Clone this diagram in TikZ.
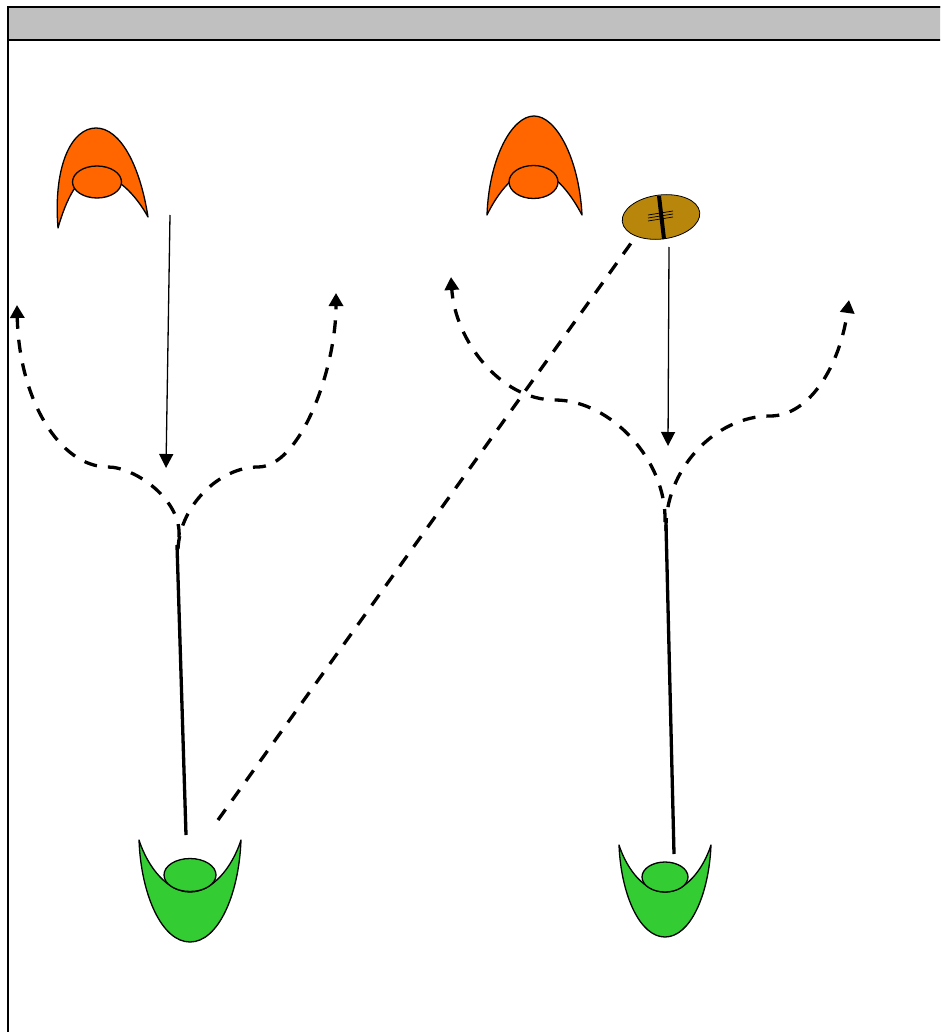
\documentclass[tikz,border=0pt]{standalone}
\usetikzlibrary{arrows.meta,shapes.geometric}
\definecolor{hdr}{HTML}{C0C0C0}
\definecolor{orng}{HTML}{FF6600}
\definecolor{grn}{HTML}{33CC33}
\definecolor{ball}{HTML}{B8860B}
\tikzset{
  x=1pt,y=-1pt,
  body/.style={draw=black,line width=1.3pt,line join=round},
  orangebody/.style={body,fill=orng},
  greenbody/.style={body,fill=grn},
  run/.style={line width=3.3pt,-{Triangle[width=14pt,length=13pt]},dash pattern=on 13pt off 11pt},
  pass/.style={line width=3.3pt,dash pattern=on 13pt off 11pt},
  block/.style={line width=3.3pt},
  move/.style={line width=1.3pt,-{Triangle[width=14pt,length=14pt]}},
}
\begin{document}
\begin{tikzpicture}
\useasboundingbox (0,0) rectangle (940,1032);
\clip (0,0) rectangle (940,1032);
\fill[white] (0,0) rectangle (940,1032);
% frame and header
\draw[line width=1.6pt] (8,1040) -- (8,7) -- (950,7);
\draw[line width=1.6pt,fill=hdr] (8,7) rectangle (950,40);
% left defender
\draw[orangebody] (58,228) .. controls (53,165) and (72,128) .. (96,128)
  .. controls (120,128) and (140,165) .. (148,217)
  .. controls (136,195) and (116,174) .. (96,174)
  .. controls (78,174) and (66,200) .. (58,228) -- cycle;
\node[ellipse,inner sep=0,minimum width=49pt,minimum height=32pt,orangebody,draw] (hL) at (97,182) {};
% right defender
\draw[orangebody] (487,215) .. controls (489,158) and (512,116) .. (534,116)
  .. controls (556,116) and (579,158) .. (582,215)
  .. controls (570,192) and (552,170) .. (534,170)
  .. controls (516,170) and (498,192) .. (487,215) -- cycle;
\node[ellipse,inner sep=0,minimum width=49pt,minimum height=33pt,orangebody,draw] (hR) at (533.5,182) {};
% ball
\node[ellipse,inner sep=0,minimum width=78pt,minimum height=44pt,draw=black,line width=.8pt,fill=ball,rotate=7] (bl) at (661,217) {};
\draw[line width=4pt] (659,196) coordinate (s1) -- (664,239) coordinate (s2);
\foreach \d in {-3,0,3}{\draw[line width=.7pt] (648,218+\d) -- (673,214+\d);}
% left receiver
\draw[greenbody] (139,840) .. controls (148,868) and (168,892) .. (190,892)
  .. controls (212,892) and (232,868) .. (241,840)
  .. controls (239,895) and (218,942) .. (190,942)
  .. controls (162,942) and (141,895) .. (139,840) -- cycle;
\node[ellipse,inner sep=0,minimum width=52pt,minimum height=33pt,greenbody,draw] (gL) at (190,875) {};
% right receiver
\draw[greenbody] (619,845) .. controls (627,870) and (645,892) .. (665,892)
  .. controls (685,892) and (703,870) .. (711,845)
  .. controls (709,895) and (690,937) .. (665,937)
  .. controls (640,937) and (621,895) .. (619,845) -- cycle;
\node[ellipse,inner sep=0,minimum width=46pt,minimum height=30pt,greenbody,draw] (gR) at (665,877) {};
% coordinates
\coordinate (a1) at (170,215); \coordinate (a2) at (166,468);
\coordinate (b1) at (669,247); \coordinate (b2) at (668,446);
\coordinate (j1a) at (179,537); \coordinate (j1b) at (178,549); \coordinate (j1) at (177,545);
\coordinate (j2a) at (665,522); \coordinate (j2b) at (666,531); \coordinate (j2) at (666,525);
\coordinate (e1) at (17,305); \coordinate (e2) at (336,293);
\coordinate (e3) at (451,277); \coordinate (e4) at (849,300);
\coordinate (p1) at (218,820); \coordinate (p2) at (634,239);
\coordinate (f1) at (186,835); \coordinate (f2) at (674,854);
% straight lines
\draw[move] (a1) -- (a2);
\draw[move] (b1) -- (b2);
\draw[block] (j1) -- (f1);
\draw[block] (j2) -- (f2);
\draw[pass] (p1) -- (p2);
% routes
\draw[run] (j1a) .. controls (182,500) and (135,467) .. (108,467)
  .. controls (60,467) and (19,400) .. (e1);
\draw[run] (j1b) .. controls (180,505) and (220,467) .. (258,467)
  .. controls (300,467) and (336,370) .. (e2);
\draw[run] (j2a) .. controls (667,460) and (610,400) .. (555,400)
  .. controls (500,400) and (455,340) .. (e3);
\draw[run] (j2b) .. controls (664,470) and (715,416) .. (770,416)
  .. controls (810,416) and (840,365) .. (e4);
\end{tikzpicture}
\end{document}
